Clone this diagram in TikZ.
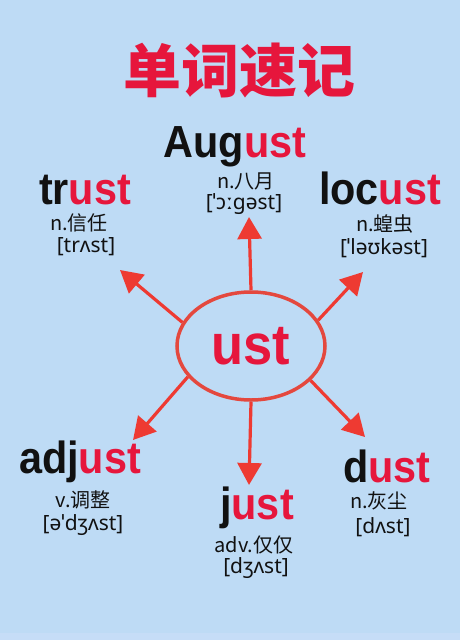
\documentclass[tikz,border=0pt]{standalone}
\usepackage{fontspec}
\usetikzlibrary{arrows.meta,shapes.geometric}
\newfontfamily\cjk{Noto Sans CJK SC}
\newfontfamily\wordfont[FakeStretch=0.92]{Liberation Sans}
\newfontfamily\ipafont{Noto Sans}
\definecolor{bg}{RGB}{190,219,245}
\definecolor{bgstrip}{RGB}{198,221,247}
\definecolor{wred}{RGB}{230,22,60}
\definecolor{ared}{RGB}{238,58,50}
\definecolor{ered}{RGB}{228,72,62}
\definecolor{ink}{RGB}{17,17,17}
\newcommand{\twotone}[2]{{\color{ink}#1}{\color{wred}#2}}
\begin{document}
\begin{tikzpicture}[x=1pt,y=-1pt,
  word/.style={font=\wordfont\bfseries\fontsize{45}{45}\selectfont, anchor=base, inner sep=0pt},
  mean/.style={font=\cjk\fontsize{20}{20}\selectfont, text=ink, inner sep=0pt},
  ipa/.style={font=\ipafont\fontsize{21}{21}\selectfont, text=ink, inner sep=0pt},
  arr/.style={draw=ared, line width=3.2pt, -{Triangle[length=22pt,width=24pt]}}]
\fill[bg] (0,0) rectangle (460,640);
\fill[bgstrip] (0,633) rectangle (460,640);
\useasboundingbox (0,0) rectangle (460,640);
% title
\node[font=\cjk\bfseries\fontsize{58}{58}\selectfont, text=wred, inner sep=0pt] (title) at (239,71) {单词速记};
% centre
\node[ellipse, draw=ered, line width=3.5pt, minimum width=148pt, minimum height=108pt, inner sep=0pt,
  font=\wordfont\bfseries\fontsize{57}{57}\selectfont, text=wred] (c) at (251,346) {ust};
% words
\node[word] (august) at (235,157) {\twotone{Aug}{ust}};
\node[mean] (augustm) at (246,181) {n.八月};
\node[ipa] (augustp) at (244,204) {[ˈɔːgəst]};
\node[word] (trust) at (85,204) {\twotone{tr}{ust}};
\node[mean] (trustm) at (79,223) {n.信任};
\node[ipa] (trustp) at (86,247) {[trʌst]};
\node[word] (locust) at (380,204) {\twotone{loc}{ust}};
\node[mean] (locustm) at (385,224) {n.蝗虫};
\node[ipa] (locustp) at (384,248) {[ˈləʊkəst]};
\node[word] (adjust) at (80,473) {\twotone{adj}{ust}};
\node[mean] (adjustm) at (83,500) {v.调整};
\node[ipa] (adjustp) at (83,525) {[əˈdʒʌst]};
\node[word] (just) at (257,519) {\twotone{j}{ust}};
\node[mean] (justm) at (254,545) {adv.仅仅};
\node[ipa] (justp) at (256,568) {[dʒʌst]};
\node[word] (dust) at (387,482) {\twotone{d}{ust}};
\node[mean] (dustm) at (379,501) {n.灰尘};
\node[ipa] (dustp) at (383,527) {[dʌst]};
% arrow tips
\coordinate (tU) at (249,217);
\coordinate (tUL) at (120,270);
\coordinate (tUR) at (363,272);
\coordinate (tLL) at (133,440);
\coordinate (tD) at (249,485);
\coordinate (tLR) at (365,437);
\draw[arr] (c.90) -- (tU);
\draw[arr] (c.161) -- (tUL);
\draw[arr] (c.21) -- (tUR);
\draw[arr] (c.206) -- (tLL);
\draw[arr] (c.270) -- (tD);
\draw[arr] (c.330) -- (tLR);
\end{tikzpicture}
\end{document}
